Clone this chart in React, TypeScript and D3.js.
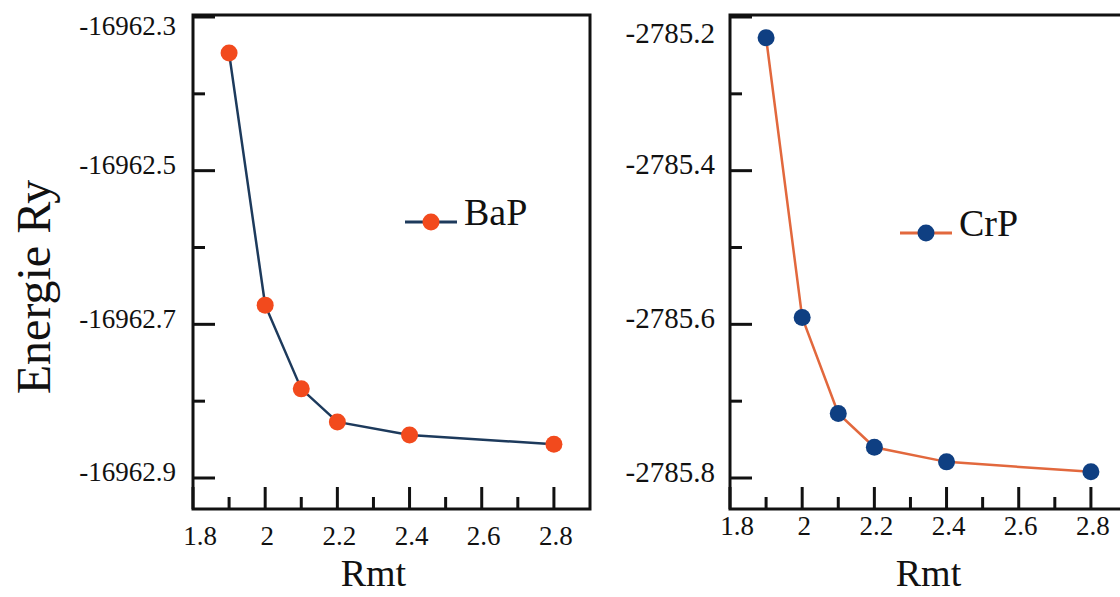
import React from "react";
import * as d3 from "d3";

const rmt = [1.9, 2.0, 2.1, 2.2, 2.4, 2.8];
const bapEnergy = [-16962.347, -16962.675, -16962.784, -16962.827, -16962.844, -16962.856];
const crpEnergy = [-2785.227, -2785.591, -2785.716, -2785.760, -2785.779, -2785.792];

const xMajorTicks = [1.8, 2.0, 2.2, 2.4, 2.6, 2.8];
const xMinorTicks = [1.9, 2.1, 2.3, 2.5, 2.7];
const xTickLabels = ["1.8", "2", "2.2", "2.4", "2.6", "2.8"];

const bapYMajor = [-16962.3, -16962.5, -16962.7, -16962.9];
const bapYMinor = [-16962.4, -16962.6, -16962.8];
const crpYMajor = [-2785.2, -2785.4, -2785.6, -2785.8];
const crpYMinor = [-2785.3, -2785.5, -2785.7];

const FONT = "'Liberation Serif', 'Times New Roman', serif";

type PanelProps = {
  left: number;
  right: number;
  top: number;
  bottom: number;
  values: number[];
  yMajor: number[];
  yMinor: number[];
  yFmt: (v: number) => string;
  lineColor: string;
  markerColor: string;
  legendName: string;
  legendX: number;
  legendY: number;
  xLabelAt: number;
  topLabelShift: number;
  labelGap: number;
  yLabelSize: number;
  xLabelY: number;
};

function Panel(p: PanelProps) {
  const x = d3.scaleLinear().domain([1.8, 2.9]).range([p.left, p.right]);
  const yTopVal = p.yMajor[0];
  const yBotVal = p.yMajor[p.yMajor.length - 1];
  const y = d3.scaleLinear().domain([yBotVal, yTopVal]).range([478, 17]);
  const pts = rmt.map((r, i) => [x(r), y(p.values[i])] as [number, number]);
  const line = d3.line().curve(d3.curveLinear)(pts) || "";
  const major = 22;
  const minor = 12;
  return (
    <g>
      <rect x={p.left} y={p.top} width={p.right - p.left} height={p.bottom - p.top}
        fill="none" stroke="#111" strokeWidth={3} />
      {xMajorTicks.map((t) => (
        <line key={"xm" + t} x1={x(t)} x2={x(t)} y1={p.bottom} y2={p.bottom - major} stroke="#111" strokeWidth={3} />
      ))}
      {xMinorTicks.map((t) => (
        <line key={"xn" + t} x1={x(t)} x2={x(t)} y1={p.bottom} y2={p.bottom - minor} stroke="#111" strokeWidth={3} />
      ))}
      {p.yMajor.map((t) => (
        <line key={"ym" + t} x1={p.left} x2={p.left + major} y1={y(t)} y2={y(t)} stroke="#111" strokeWidth={3} />
      ))}
      {p.yMinor.map((t) => (
        <line key={"yn" + t} x1={p.left} x2={p.left + minor} y1={y(t)} y2={y(t)} stroke="#111" strokeWidth={3} />
      ))}
      {xMajorTicks.map((t, i) => (
        <text key={"xl" + t} x={x(t) + (i === 0 ? 7 : 2)} y={p.xLabelY} textAnchor="middle"
          fontFamily={FONT} fontSize={27} fill="#111">{xTickLabels[i]}</text>
      ))}
      {p.yMajor.map((t, i) => (
        <text key={"yl" + t} x={p.left - p.labelGap} y={y(t) + (i === 0 ? p.topLabelShift : -3)} textAnchor="end"
          dominantBaseline="middle" fontFamily={FONT} fontSize={p.yLabelSize} fill="#111">{p.yFmt(t)}</text>
      ))}
      <path d={line} fill="none" stroke={p.lineColor} strokeWidth={2.5} />
      {pts.map((pt, i) => (
        <circle key={"c" + i} cx={pt[0]} cy={pt[1]} r={8.5} fill={p.markerColor} />
      ))}
      <line x1={p.legendX} x2={p.legendX + 52} y1={p.legendY} y2={p.legendY} stroke={p.lineColor} strokeWidth={3} />
      <circle cx={p.legendX + 26} cy={p.legendY} r={8.5} fill={p.markerColor} />
      <text x={p.legendX + 59} y={p.legendY + 3} fontFamily={FONT} fontSize={38} fill="#111">{p.legendName}</text>
      <text x={x(p.xLabelAt)} y={586} textAnchor="middle" fontFamily={FONT} fontSize={38} fill="#111">Rmt</text>
    </g>
  );
}

export default function App() {
  return (
    <svg width={1120} height={597} style={{ position: "absolute", left: 0, top: 0, background: "#fff" }}>
      <rect x={0} y={0} width={1120} height={597} fill="#fff" />
      <text transform="translate(50,287) rotate(-90)" textAnchor="middle" fontFamily={FONT} fontSize={48} fill="#111">Energie Ry</text>
      <Panel left={193} right={590} top={15} bottom={509} values={bapEnergy}
        yMajor={bapYMajor} yMinor={bapYMinor} yFmt={(v) => v.toFixed(1)}
        lineColor="#1d3a5c" markerColor="#f24a1d" legendName="BaP" legendX={405} legendY={222}
        xLabelAt={2.3} topLabelShift={12} labelGap={17} yLabelSize={27} xLabelY={545} />
      <Panel left={730} right={1127} top={15} bottom={509} values={crpEnergy}
        yMajor={crpYMajor} yMinor={crpYMinor} yFmt={(v) => v.toFixed(1)}
        lineColor="#e2683d" markerColor="#0f3f82" legendName="CrP" legendX={900} legendY={233}
        xLabelAt={2.35} topLabelShift={19} labelGap={15} yLabelSize={29} xLabelY={535} />
    </svg>
  );
}
